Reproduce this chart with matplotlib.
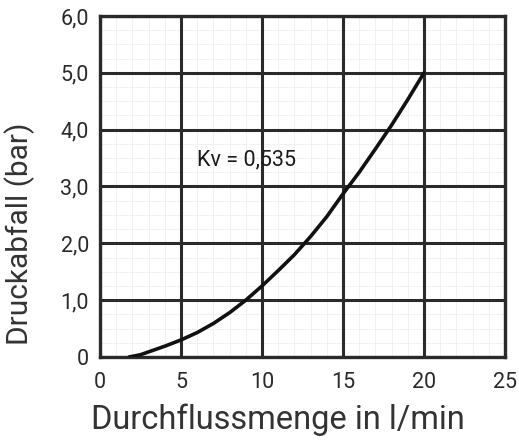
import matplotlib
matplotlib.use("Agg")
import matplotlib.pyplot as plt
import numpy as np

flow = [1.8, 2.5, 3.0, 4.0, 5.0, 6.0, 7.0, 8.0, 9.0, 10.0, 11.0, 12.0, 13.0,
        14.0, 15.0, 16.0, 17.0, 18.0, 19.0, 20.0]
pressure = [0.0, 0.04, 0.09, 0.19, 0.3, 0.43, 0.59, 0.78, 1.0, 1.25, 1.52, 1.8, 2.12,
            2.47, 2.87, 3.25, 3.66, 4.08, 4.53, 5.0]
xticks = [0, 5, 10, 15, 20, 25]
xticklabels = ["0", "5", "10", "15", "20", "25"]
yticks = [0, 1, 2, 3, 4, 5, 6]
yticklabels = ["0", "1,0", "2,0", "3,0", "4,0", "5,0", "6,0"]
annotation = "Kv = 0,535"
xlabel = "Durchflussmenge in l/min"
ylabel = "Druckabfall (bar)"

plt.rcParams['font.family'] = ['Roboto', 'Liberation Sans', 'DejaVu Sans']

fig = plt.figure(figsize=(5.19, 4.41), dpi=100)
ax = fig.add_axes([0.1927, 0.1905, 0.973 - 0.1927, 0.9637 - 0.1905])

ax.set_xlim(0, 25)
ax.set_ylim(0, 6)

# faint minor grid (drawn underneath the major grid)
xminor = np.arange(0, 25.01, 1)
yminor = np.arange(0, 6.01, 0.25)
ax.vlines(xminor, 0, 6, colors='#efefef', lw=0.6, zorder=0.1)
ax.hlines(yminor, 0, 25, colors='#efefef', lw=0.6, zorder=0.1)

ax.grid(which='major', color='#2a2a2a', lw=2.2)
ax.set_axisbelow(True)

ax.set_xticks(xticks)
ax.set_xticklabels(xticklabels)
ax.set_yticks(yticks)
ax.set_yticklabels(yticklabels)
ax.tick_params(which='both', length=0)
ax.tick_params(axis='x', pad=11, labelsize=15.5, labelcolor='#2a2a2a')
ax.tick_params(axis='y', pad=8, labelsize=15.5, labelcolor='#2a2a2a')

for s in ax.spines.values():
    s.set_linewidth(2.4)
    s.set_color('#2a2a2a')

ax.plot(flow, pressure, color='#111111', lw=2.6, solid_capstyle='round', zorder=3)

ax.text(6.0, 3.46, annotation, fontsize=15.5,
        color='#1a1a1a', va='center', ha='left')

ax.set_xlabel(xlabel, fontsize=23.5, color='#333333')
ax.xaxis.set_label_coords(0.438, -0.135)
ax.xaxis.label.set_va('top')
ax.set_ylabel(ylabel, fontsize=21.5, color='#333333')
ax.yaxis.set_label_coords(-0.16, 0.36)

fig.savefig("out.png", dpi=100)
